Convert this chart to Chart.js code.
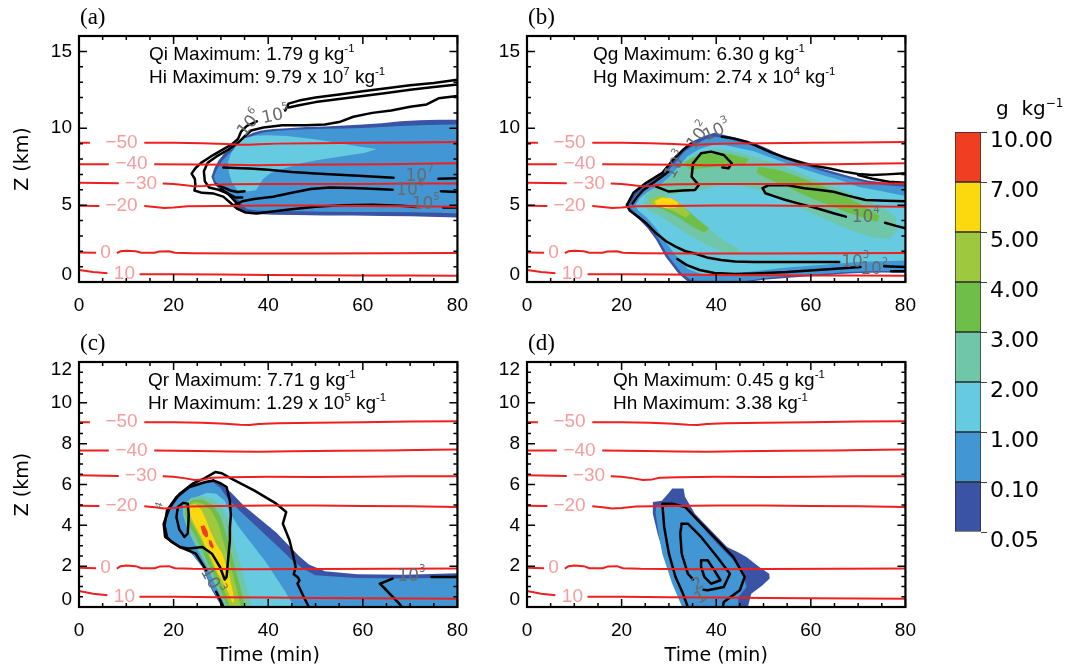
<!DOCTYPE html>
<html><head><meta charset="utf-8">
<script src="https://cdn.jsdelivr.net/npm/chart.js@4.4.1/dist/chart.umd.min.js"></script>
<style>
html,body{margin:0;padding:0;background:#fff;overflow:hidden}
#wrap{position:relative;width:1075px;height:669px;background:#fff}
#wrap canvas{position:absolute}
</style></head>
<body><div id="wrap">
<canvas id="pa" width="480" height="320" style="left:0px;top:0px"></canvas>
<canvas id="pb" width="480" height="320" style="left:448px;top:0px"></canvas>
<canvas id="pc" width="480" height="349" style="left:0px;top:320px"></canvas>
<canvas id="pd" width="480" height="349" style="left:448px;top:320px"></canvas>
<canvas id="cb" width="145" height="480" style="left:930px;top:80px"></canvas>
</div>
<script>
// ---------------- DATA ----------------
const timeMajor = [0,20,40,60,80];
const timeMinor = [5,10,15,25,30,35,45,50,55,65,70,75];
const zMajorTop = [0,5,10,15];
const zMinorTop = [1,2,3,4,6,7,8,9,11,12,13,14];
const zMajorBot = [0,2,4,6,8,10,12];
const zMinorBot = [0.5,1,1.5,2.5,3,3.5,4.5,5,5.5,6.5,7,7.5,8.5,9,9.5,10.5,11,11.5];

const cbLabels = ['0.05','0.10','1.00','2.00','3.00','4.00','5.00','7.00','10.00'];
const cbColors = ['#3a53a4','#4196d3','#66cbe1','#6fc6a9','#6ebe48','#9ec93f','#fcd80f','#f03e23'];
const cbBand = [1,1,1,1,1,1,1,1];

// isotherms (time min, height km)
const isoM50a = [[0,9.05],[2.3,9.05]];
const isoM50b = [[13.8,9.05],[20,9.05],[26,9.02],[31,8.98],[34,8.93],[36,8.92],[38,8.96],[42,9.0],[50,9.02],[60,9.05],[70,9.08],[80,9.1]];
const isoM40a = [[0,7.66],[6.3,7.66]];
const isoM40b = [[15.9,7.66],[25,7.64],[32,7.62],[38,7.6],[45,7.63],[55,7.65],[65,7.66],[75,7.7],[80,7.72]];
const isoM30a = [[0,6.45],[8.4,6.42]];
const isoM30b = [[17.7,6.41],[20,6.38],[22.5,6.3],[24.5,6.22],[26.5,6.25],[28,6.33],[32,6.36],[40,6.38],[50,6.37],[60,6.38],[70,6.4],[80,6.4]];
const isoM20a = [[0,4.96],[4.3,4.95]];
const isoM20b = [[13.8,4.94],[16,4.88],[18,4.82],[20,4.85],[23,4.92],[30,4.95],[40,4.97],[50,4.97],[60,4.95],[70,4.93],[80,4.9]];
const iso0a = [[0,1.92],[3.6,1.9]];
const iso0b = [[8,1.88],[8.8,2.0],[10,2.03],[12,2.0],[13.2,1.9],[16,1.9],[17,1.98],[19,2.0],[20.3,1.9],[24,1.87],[35,1.85],[50,1.86],[65,1.87],[80,1.88]];
const iso10a = [[0,0.78],[3,0.65],[6,0.57]];
const iso10b = [[12.8,0.5],[20,0.5],[30,0.48],[40,0.46],[50,0.44],[60,0.43],[70,0.42],[80,0.4]];
const isoLines = [isoM50a,isoM50b,isoM40a,isoM40b,isoM30a,isoM30b,isoM20a,isoM20b,iso0a,iso0b,iso10a,iso10b];
const isoLabels = [{t:'\u221250',x:9.0,y:9.05},{t:'\u221240',x:11.1,y:7.66},{t:'\u221230',x:13.1,y:6.42},{t:'\u221220',x:9.0,y:4.95},{t:'0',x:5.6,y:1.9},{t:'10',x:9.6,y:0.52}];

// ---- panel (a): ice ----
const aFill005 = [[28,6.85],[28.6,7.4],[29.5,7.9],[30.8,8.4],[32.2,8.75],[33.6,9.15],[35,9.45],[36.8,9.7],[38.5,9.85],[41,9.95],[44,10.0],[48,10.08],[52,10.12],[56,10.18],[60,10.25],[64,10.32],[68,10.45],[72,10.52],[76,10.55],[80,10.55],[80,4.2],[76,4.22],[70,4.28],[64,4.3],[58,4.32],[52,4.32],[46,4.35],[41,4.38],[37.5,4.42],[35,4.5],[33.6,4.75],[33,5.2],[31.8,5.55],[30,5.95],[28.6,6.35]];
const aFill01 = [[28.5,6.85],[29.2,7.35],[30.2,7.85],[31.5,8.3],[32.8,8.65],[34.2,9.05],[35.6,9.35],[37.3,9.58],[39,9.72],[41.5,9.82],[44.5,9.88],[48,9.93],[52,9.96],[56,9.98],[60,10.02],[64,10.08],[68,10.15],[72,10.2],[76,10.22],[80,10.25],[80,4.45],[76,4.5],[70,4.53],[64,4.55],[58,4.55],[52,4.57],[46,4.6],[41,4.62],[37.5,4.65],[35.5,4.75],[34.5,5.0],[33.5,5.4],[32,5.75],[30.3,6.1],[29,6.45]];
const aFill1 = [[31.5,7.8],[32.2,8.4],[33.4,8.95],[35,9.35],[37,9.52],[40,9.55],[44,9.5],[48,9.35],[52,9.18],[56,8.98],[59.5,8.8],[62.9,8.65],[60.5,8.4],[56.7,8.22],[53,8.05],[49.9,7.9],[47,7.72],[44.5,7.5],[42,7.25],[40.4,7.05],[38.9,6.7],[38.1,6.3],[37.4,5.97],[35.5,5.88],[33.6,5.95],[32.4,6.4],[31.7,7.1]];
const aTop1 = [[80,13.15],[75,12.95],[70,12.8],[65,12.6],[60,12.4],[55,12.2],[50,12.0],[46.5,11.8],[44.3,11.6],[43.6,11.15]];
const aTop2 = [[80,12.85],[75,12.68],[70,12.5],[65,12.3],[60,12.1],[55,11.9],[50,11.7],[46.5,11.5],[44.3,11.35]];
const aOuter = [[37.6,10.45],[35.5,10.15],[34.3,9.8],[33.6,9.3],[32.3,8.95],[30,8.55],[27.8,8.15],[25.8,7.75],[24.6,7.4],[23.8,7.05],[24.5,6.7],[24.6,6.3],[24.4,5.95],[26,5.8],[28.5,5.75],[30.5,5.55],[32,5.15],[33.5,4.75],[35.2,4.52],[37.5,4.45],[40,4.55],[44,4.7],[50,4.9],[56,5.0],[62,5.02],[68,4.96],[71.3,4.9]];
const aOuterR = [[77,4.85],[80,4.85]];
const aInner = [[80,12.1],[76,11.95],[73.5,11.55],[70,11.4],[66,11.15],[62,11.0],[58,10.75],[55,10.4],[52,10.25],[48,10.2],[43,10.2],[39,10.05],[36.4,9.85],[35.1,9.5],[33.6,9.05],[31.5,8.6],[29,8.15],[27.2,7.75],[26.4,7.2],[26.6,6.55],[27.5,6.15],[29.5,6.0],[31.5,5.75],[32.8,5.3],[33.8,5.0]];
const a10e7 = [[30.5,7.45],[33,7.42],[36,7.38],[40,7.3],[45,7.15],[50,7.05],[55,6.98],[60,6.9],[66.5,6.78]];
const a10e7R = [[76,6.72],[80,6.75]];
const a10e6 = [[32.8,5.0],[34.5,5.25],[37,5.4],[41,5.55],[45,5.8],[49,6.05],[53,6.15],[58,6.12],[63,6.05],[66.3,6.0]];
const a10e6R = [[76.5,5.9],[80,5.85]];
const aSq1 = [[29,6.35],[30.5,6.15],[32,5.95],[33.5,5.85],[35,5.9]];
const aSq2 = [[30,6.05],[31.5,5.75],[33,5.5],[34.5,5.5]];
const aLabels = [{b:'10',s:'7',x:72,y:6.87,r:0},{b:'10',s:'6',x:70,y:5.95,r:0},{b:'10',s:'5',x:73.3,y:5.05,r:0},{b:'10',s:'6',x:36.2,y:10.3,r:-50},{b:'10',s:'5',x:41.6,y:10.8,r:-12}];

// ---- panel (b): graupel ----
const bFill005 = [[21,4.9],[22.5,5.7],[24,6.15],[26.5,6.6],[28.6,7.1],[30.5,7.8],[32.7,8.6],[35,9.15],[37.5,9.5],[39.6,9.7],[42,9.55],[45,9.3],[48,9.05],[51,8.65],[54.5,8.15],[58,7.8],[61.5,7.45],[65,7.15],[68,6.9],[72,6.6],[76,6.45],[80,6.4],[80,0.6],[74,0.62],[68,0.55],[62,0.42],[56,0.3],[50,0.15],[46.5,0],[34.1,0],[32,0.56],[29.3,1.65],[27.3,2.75],[25.5,3.5],[23.9,4.0],[22,4.5]];
const bFill01 = [[21.6,4.9],[23,5.65],[24.5,6.05],[27,6.45],[29,6.95],[31,7.65],[33.2,8.45],[35.5,8.95],[37.8,9.3],[39.8,9.45],[42,9.35],[45,9.1],[48,8.85],[51,8.45],[54.5,8.0],[58,7.65],[61.5,7.3],[65,7.0],[68,6.75],[72,6.45],[76,6.3],[80,6.2],[80,0.7],[74,0.72],[68,0.65],[62,0.52],[56,0.4],[50,0.25],[46,0.05],[35,0.05],[32.6,0.6],[29.8,1.7],[27.8,2.8],[26,3.55],[24.3,4.1],[22.5,4.6]];
const bFill1 = [[22.8,4.95],[24,5.5],[25.5,5.85],[28,6.3],[30,6.8],[32,7.5],[34,8.2],[36.5,8.65],[39.5,8.95],[42,8.9],[45,8.7],[48,8.5],[51,8.15],[55,7.7],[58,7.4],[62,7.0],[66,6.65],[70,6.2],[75,5.9],[80,5.6],[80,1.4],[75,1.35],[70,1.3],[62,1.1],[55,0.95],[48,0.7],[42,0.5],[37,0.5],[34,0.85],[31.5,1.7],[29.3,2.6],[27.3,3.5],[25.3,4.2],[23.7,4.6]];
const bFill2a = [[24.8,5.6],[27,6.1],[29.5,6.6],[31.5,7.2],[33.5,7.9],[36,8.4],[39,8.65],[42,8.6],[45,8.4],[48,8.15],[52,7.75],[56,7.3],[60,6.8],[64,6.3],[68,5.8],[72,5.3],[75.5,4.8],[78,4.2],[78.2,3.3],[76.5,2.8],[73,2.9],[69,3.3],[65,3.8],[61,4.35],[57,4.9],[53,5.5],[49,6.0],[45,6.3],[41,6.3],[37,6.0],[33,5.8],[29,5.6],[26,5.2]];
const bFill2b = [[24.5,5.2],[27,5.55],[30,5.45],[33,4.9],[36,4.1],[39,3.3],[42,2.6],[45,2.1],[44.5,1.8],[41,2.0],[37.5,2.5],[34,3.1],[31,3.7],[28,4.3],[25.5,4.7]];
const bFill3a = [[33,7.7],[35,8.1],[38,8.35],[41,8.4],[44,8.25],[47,8.0],[46,7.65],[43,7.55],[40,7.5],[37,7.4],[34.5,7.3]];
const bFill3b = [[49,7.5],[53,7.3],[57,6.9],[61,6.4],[65,5.9],[69,5.3],[72,4.8],[74.5,4.3],[74,3.9],[71,4.2],[67,4.6],[63,5.1],[59,5.6],[55,6.2],[51,6.7],[48.5,7.1]];
const bFill3c = [[26,5.3],[28,5.6],[31,5.4],[33.5,4.8],[36,4.1],[38.5,3.5],[37.5,3.2],[35,3.6],[32,4.2],[29,4.7],[26.5,4.95]];
const bFill4 = [[26,5.35],[28,5.6],[31,5.4],[33,5.0],[34.5,4.4],[33.5,4.2],[31,4.6],[28.5,4.9],[26.5,5.0]];
const bFill5 = [[27,5.25],[28.5,5.5],[30.5,5.45],[32,5.15],[31.5,4.85],[29.5,4.8],[27.5,4.95]];
const bTop = [[80,7.07],[76,7.0],[73,6.96],[70,7.02],[67,7.18],[64,7.38],[61,7.55],[58.6,7.72],[55,8.05],[51.8,8.4],[48.5,8.85],[46.4,9.13],[43.5,9.35],[41.2,9.45]];
const bLeft = [[34.6,9.0],[33,8.6],[31,8.0],[28.6,7.1],[25.2,6.45],[22.5,5.8],[21.1,5.0],[21.7,4.65],[23.5,4.25],[25.3,3.8],[27.3,3.17],[29.4,2.65],[31.4,2.3],[33.5,2.0],[35.5,1.85],[38,1.6],[41,1.43],[44,1.33],[48,1.3],[55,1.3],[60,1.3],[66,1.3]];
const bLowR = [[75.5,1.02],[80,0.98]];
const bLow2 = [[31.8,1.5],[33.8,1.1],[36.5,0.78],[39.6,0.58],[44,0.52],[48,0.56],[55,0.65],[61.4,0.78],[66,0.88],[70.5,0.97]];
const bLow2R = [[77,0.7],[80,0.7]];
const bTop3 = [[80,6.45],[76.5,6.52],[73,6.72],[70,6.95]];
const bLeft3 = [[22.3,5.1],[23.2,5.5],[24.5,5.95],[26.5,6.4],[28.5,6.85],[30,7.2]];
const bHook = [[27.3,6.2],[30,5.88],[33,5.95],[35.5,5.98],[36.3,6.3],[34.8,6.85],[35.1,7.72],[36.8,8.37],[38.9,8.48],[41.6,8.26],[43.3,7.72],[42.6,7.4],[41.3,7.45]];
const bLoop = [[80,5.25],[76,5.28],[71.6,5.33],[68,5.6],[64.8,5.87],[61.5,6.0],[58.6,6.1],[55,6.3],[51.1,6.3],[49.8,6.1],[50.4,5.77],[52.5,5.55],[54.5,5.35],[57.5,5.1],[60,4.9],[62.5,4.68],[64.8,4.47],[67.4,4.25]];
const bLoopR = [[75.7,3.85],[78,3.65],[80,3.5]];
const bLabels = [{b:'10',s:'4',x:71.6,y:4.2,r:0},{b:'10',s:'2',x:36.4,y:9.5,r:-55},{b:'10',s:'3',x:40.2,y:9.8,r:-25},{b:'10',s:'3',x:31.6,y:7.6,r:-60},{b:'10',s:'3',x:69.4,y:1.25,r:0},{b:'10',s:'2',x:73.4,y:0.8,r:0}];

// ---- panel (c): rain ----
const cFill005 = [[17.7,4.0],[18.6,4.65],[20.6,5.39],[23.3,5.88],[26.7,6.15],[28.4,6.25],[30.2,6.0],[32.2,5.6],[34.9,4.95],[38.3,4.3],[41.7,3.65],[44.5,2.98],[46.5,2.5],[48.6,2.08],[52,1.75],[58.8,1.6],[69,1.58],[80,1.65],[80,0],[30.2,0],[28.1,0.82],[26.1,1.96],[23.3,2.78],[20.6,3.1],[18.2,3.43]];
const cFill01 = [[18.0,4.0],[18.9,4.6],[20.8,5.3],[23.4,5.8],[26.7,6.05],[28.4,6.1],[29.8,5.85],[31.5,5.3],[33.8,4.75],[36.8,4.1],[40,3.4],[43,2.75],[45,2.3],[47.2,1.9],[50,1.55],[58.8,1.42],[69,1.4],[80,1.45],[80,0],[30.4,0],[28.3,0.82],[26.3,1.9],[23.5,2.7],[20.8,3.0],[18.4,3.35]];
const cFill1 = [[23.2,5.0],[25,5.4],[27,5.6],[29,5.55],[30.8,5.2],[32,4.6],[33.5,4.0],[35.5,3.4],[37.5,2.8],[39.5,2.2],[41.5,1.5],[43.5,0.8],[45.5,0],[31.2,0],[29.5,0.9],[27.8,1.8],[26,2.7],[24.3,3.4],[23,4.2]];
const cFill2 = [[22.0,5.0],[23.8,5.35],[26,5.45],[28.3,5.3],[30.2,4.9],[31.6,4.2],[32.5,3.4],[33.6,2.5],[34.8,1.5],[35.8,0.7],[36.6,0],[30.9,0],[29.8,0.6],[28.6,1.2],[27.2,1.9],[25.8,2.5],[24.2,3.2],[22.8,3.9],[22.0,4.5]];
const cFill3 = [[22.4,4.98],[24.2,5.25],[26.2,5.25],[28.2,5.0],[29.8,4.5],[30.8,3.8],[31.7,3.0],[32.7,2.2],[33.7,1.3],[34.6,0.5],[35.0,0],[31.4,0],[30.3,0.6],[29.0,1.3],[27.6,2.0],[26.2,2.7],[24.7,3.4],[23.3,4.0],[22.5,4.5]];
const cFill4 = [[22.8,4.95],[24.5,5.15],[26.3,5.05],[28,4.7],[29.4,4.1],[30.4,3.3],[31.3,2.6],[32.3,1.8],[33.3,0.9],[34.2,0],[31.9,0],[30.9,0.7],[29.6,1.4],[28.2,2.1],[26.8,2.8],[25.3,3.5],[23.9,4.1],[23.0,4.5]];
const cFill5 = [[23.2,4.95],[24.6,5.05],[25.9,4.75],[26.9,4.25],[27.9,3.65],[29.0,3.1],[30.3,2.6],[31.2,2.0],[31.9,1.4],[32.5,0.8],[32.8,0.3],[32.4,0.2],[31.6,0.7],[30.5,1.2],[29.2,1.7],[28.1,2.3],[26.9,2.9],[25.7,3.5],[24.5,4.0],[23.6,4.45]];
const cFill7a = [[25.7,3.95],[26.5,4.0],[27.2,3.7],[27.3,3.45],[26.8,3.4],[26.1,3.6]];
const cFill7b = [[27.4,3.3],[28.0,3.25],[28.5,2.95],[28.2,2.85],[27.6,3.0]];
const cOuter = [[30.5,0],[30.2,0.17],[29.0,0.75]];
const cOuter2 = [[26.9,1.8],[24.7,2.61],[21.3,2.94],[18.2,3.43],[17.9,4.08],[19.2,4.9],[21.3,5.55],[24,6.04],[26.5,6.3],[28.8,6.61],[30.2,6.55],[32.2,6.29],[37,5.71],[41.7,5.06],[43.8,4.65],[43.1,4.08],[44.5,3.27],[45.2,2.6],[45.8,1.96],[45.4,1.6],[46.3,1.45],[46.6,1.3],[46.2,1.14],[47.5,0.5],[48.6,0]];
const cInner = [[28.4,6.2],[30,6.05],[31.2,5.88],[31.9,5.2],[32.1,4.5],[31.9,3.9],[31.9,3.27],[31.5,2.29],[31.2,1.47],[30.8,1.35],[29.8,1.96],[28.1,2.61],[26.1,2.94],[23.3,2.86],[21.3,2.94],[19.5,3.2],[18.6,3.43],[18.1,4.0],[18.6,4.73],[20.6,5.39],[23.3,5.88],[26.7,6.12],[28.4,6.2]];
const cCore = [[20.9,4.9],[22,5.1],[23,5.06],[23.2,4.5],[23,3.6],[22.3,3.43],[21.2,3.8],[20.6,4.4],[20.9,4.9]];
const cRight = [[80,1.47],[74.5,1.47]];
const cRight2 = [[66.3,1.39],[63.6,1.14],[65,0.82],[67.7,0.17],[68.2,0]];
const cLabels = [{b:'10',s:'3',x:70.3,y:1.5,r:0},{b:'10',s:'3',x:28.0,y:1.25,r:60},{b:'',s:'4',x:18.4,y:4.85,r:-70}];

// ---- panel (d): hail ----
const dFill005 = [[26.6,5.14],[28.5,5.2],[30,5.6],[30.7,5.8],[33.1,5.8],[33.4,5.4],[35.5,4.57],[38.2,3.92],[42.3,2.94],[44.5,2.7],[46.4,2.45],[49.1,1.96],[51.2,1.63],[51.3,1.39],[49.8,1.06],[47.4,0.65],[46.7,0],[33.1,0],[31.4,0.98],[29.3,2.29],[27.6,3.6],[26.6,4.57]];
const dFill01 = [[27.3,4.95],[29,5.05],[31.1,5.0],[34,4.83],[36,4.25],[38.2,3.6],[41,2.9],[43.6,2.29],[45.7,1.63],[46.4,0.98],[44.7,0.49],[44.6,0],[32.8,0],[30.7,1.14],[28.6,2.61],[27.6,3.92],[27.2,4.6]];
const dC1 = [[41.4,0],[41.6,0.24],[45,0.82],[46,1.47],[43.6,2.45],[40.2,3.27],[36.8,4.08],[33.4,4.9],[30.7,5.06],[28.6,5.06],[28.8,4.5],[29,3.92],[30,2.61],[31.4,1.47],[32.8,0.75],[34,0]];
const dC2 = [[32.7,4.08],[34,4.08],[36.8,3.43],[40.2,2.45],[42.9,1.63],[41.6,0.98],[38.2,0.82],[37.3,0.85]];
const dC2b = [[35.1,1.35],[34,1.63],[32.7,2.61],[32.4,3.6],[32.7,4.08]];
const dC3 = [[36.8,2.29],[38.2,2.29],[39.6,1.8],[40.9,1.31],[38.9,1.14],[37.5,1.47],[36.8,1.96],[36.8,2.29]];
const dLabels = [{b:'2',s:'',x:36.1,y:1.1,r:-30},{b:'1',s:'',x:36.8,y:0.45,r:-30}];

// ---------------- DRAWING ----------------
const xy = pts => pts.map(p => ({x: p[0], y: p[1]}));

function richWidth(ctx, parts, size, fam) {
  let w = 0;
  for (const [t, s] of parts) { ctx.font = (s ? size * 0.6 : size) + 'px ' + fam; w += ctx.measureText(t).width; }
  return w;
}
function drawRich(ctx, parts, x, y, size, fam, align) {
  let cx = align === 'center' ? x - richWidth(ctx, parts, size, fam) / 2 : x;
  ctx.textAlign = 'left';
  for (const [t, s] of parts) {
    if (!t) continue;
    ctx.font = (s ? size * 0.6 : size) + 'px ' + fam;
    ctx.fillText(t, cx, s ? y - size * 0.42 : y);
    cx += ctx.measureText(t).width;
  }
}

const boxPlugin = {
  id: 'boxticks',
  afterDatasetsDraw(chart, args, o) {
    const {ctx, chartArea: {left, right, top, bottom}, scales: {x, y}} = chart;
    ctx.save();
    ctx.fillStyle = '#f59d9d'; ctx.font = '19px "Liberation Sans"';
    ctx.textAlign = 'center'; ctx.textBaseline = 'middle';
    isoLabels.forEach(l => ctx.fillText(l.t, x.getPixelForValue(l.x), y.getPixelForValue(l.y)));
    ctx.fillStyle = '#6a6a6a';
    o.clabels.forEach(l => {
      ctx.save();
      ctx.translate(x.getPixelForValue(l.x), y.getPixelForValue(l.y));
      ctx.rotate(l.r * Math.PI / 180);
      ctx.textBaseline = 'middle';
      drawRich(ctx, [[l.b, 0], [l.s, 1]], 0, 0, 17, '"DejaVu Sans"', 'center');
      ctx.restore();
    });
    ctx.strokeStyle = '#000'; ctx.lineWidth = 1.5;
    ctx.beginPath();
    const tx = (v, L) => { const p = x.getPixelForValue(v); ctx.moveTo(p, bottom); ctx.lineTo(p, bottom - L); ctx.moveTo(p, top); ctx.lineTo(p, top + L); };
    const ty = (v, L) => { const p = y.getPixelForValue(v); ctx.moveTo(left, p); ctx.lineTo(left + L, p); ctx.moveTo(right, p); ctx.lineTo(right - L, p); };
    timeMajor.forEach(v => tx(v, 8)); timeMinor.forEach(v => tx(v, 4));
    o.yMajor.forEach(v => ty(v, 8)); o.yMinor.forEach(v => ty(v, 4));
    ctx.stroke();
    ctx.lineWidth = 2.2;
    ctx.strokeRect(left, top, right - left, bottom - top);
    ctx.restore();
  },
  afterDraw(chart, args, o) {
    const {ctx, chartArea: {left, top}} = chart;
    ctx.save();
    ctx.fillStyle = '#000'; ctx.textBaseline = 'alphabetic';
    drawRich(ctx, o.t1, left + o.tx, top + 24, 19, '"Liberation Sans"', 'left');
    drawRich(ctx, o.t2, left + o.tx, top + 47, 19, '"Liberation Sans"', 'left');
    ctx.font = '23px "Liberation Serif"'; ctx.textAlign = 'left';
    ctx.fillText(o.letter, left + 1, top - 12);
    ctx.restore();
  }
};

function makePanel(id, cfg) {
  const datasets = [];
  let ord = 1000;
  cfg.fills.forEach(([pts, lev]) => datasets.push({data: xy(pts), fill: 'shape', backgroundColor: cbColors[lev], borderWidth: 0, pointRadius: 0, pointHoverRadius: 0, order: ord--}));
  cfg.lines.forEach(pts => datasets.push({data: xy(pts), fill: false, borderColor: '#000', borderWidth: 2.5, borderJoinStyle: 'round', borderCapStyle: 'round', pointRadius: 0, pointHoverRadius: 0, order: 20}));
  isoLines.forEach(pts => datasets.push({data: xy(pts), fill: false, borderColor: '#ee1f1f', borderWidth: 2, borderJoinStyle: 'round', pointRadius: 0, pointHoverRadius: 0, order: 10}));
  const yMax = cfg.yMax;
  new Chart(document.getElementById(id), {
    type: 'line',
    data: {datasets},
    options: {
      responsive: false, animation: false, devicePixelRatio: 1, events: [],
      layout: {padding: {top: cfg.padTop, right: 10, left: 0, bottom: 0}},
      plugins: {legend: {display: false}, tooltip: {enabled: false},
        boxticks: {clabels: cfg.clabels, yMajor: cfg.yMajor, yMinor: cfg.yMinor, t1: cfg.t1, t2: cfg.t2, tx: cfg.tx, letter: cfg.letter}},
      scales: {
        x: {type: 'linear', min: 0, max: 80,
          afterBuildTicks: s => { s.ticks = timeMajor.map(v => ({value: v})); },
          afterFit: s => { s.height = cfg.xH; },
          ticks: {font: {family: 'Liberation Sans', size: 19}, color: '#000', padding: 12, maxRotation: 0, autoSkip: false},
          grid: {display: false, drawTicks: false}, border: {display: false},
          title: {display: cfg.xTitle, text: 'Time (min)', color: '#000', font: {family: 'DejaVu Sans', size: 19}, padding: {top: 0, bottom: 1.6}}},
        y: {type: 'linear', min: 0, max: yMax,
          afterBuildTicks: s => { s.ticks = cfg.yMajor.map(v => ({value: v})); },
          afterFit: s => { s.width = 79; },
          ticks: {font: {family: 'Liberation Sans', size: 19, lineHeight: 0.8}, color: '#000', padding: 7, autoSkip: false,
            callback: v => v === yMax ? ['', String(v)] : (v === 0 ? ['0', ''] : String(v))},
          grid: {display: false, drawTicks: false}, border: {display: false},
          title: {display: cfg.yTitle, text: 'Z (km)', color: '#000', font: {family: 'DejaVu Sans', size: 19}, padding: {top: 11.6, bottom: 0}}}
      }
    },
    plugins: [boxPlugin]
  });
}

makePanel('pa', {
  fills: [[aFill005, 0], [aFill01, 1], [aFill1, 2]],
  lines: [aTop1, aTop2, aOuter, aOuterR, aInner, a10e7, a10e7R, a10e6, a10e6R, aSq1, aSq2],
  clabels: aLabels, yMax: 16, yMajor: zMajorTop, yMinor: zMinorTop, padTop: 36, xH: 38,
  xTitle: false, yTitle: true, letter: '(a)', tx: 70,
  t1: [['Qi Maximum: 1.79 g kg', 0], ['-1', 1]],
  t2: [['Hi Maximum: 9.79 x 10', 0], ['7', 1], [' kg', 0], ['-1', 1]]
});
makePanel('pb', {
  fills: [[bFill005, 0], [bFill01, 1], [bFill1, 2], [bFill2a, 3], [bFill2b, 3], [bFill3a, 4], [bFill3b, 4], [bFill3c, 4], [bFill4, 5], [bFill5, 6]],
  lines: [bTop, bLeft, bLowR, bLow2, bLow2R, bTop3, bLeft3, bHook, bLoop, bLoopR],
  clabels: bLabels, yMax: 16, yMajor: zMajorTop, yMinor: zMinorTop, padTop: 36, xH: 38,
  xTitle: false, yTitle: false, letter: '(b)', tx: 66,
  t1: [['Qg Maximum: 6.30 g kg', 0], ['-1', 1]],
  t2: [['Hg Maximum: 2.74 x 10', 0], ['4', 1], [' kg', 0], ['-1', 1]]
});
makePanel('pc', {
  fills: [[cFill005, 0], [cFill01, 1], [cFill1, 2], [cFill2, 3], [cFill3, 4], [cFill4, 5], [cFill5, 6], [cFill7a, 7], [cFill7b, 7]],
  lines: [cOuter, cOuter2, cInner, cCore, cRight, cRight2],
  clabels: cLabels, yMax: 12, yMajor: zMajorBot, yMinor: zMinorBot, padTop: 42, xH: 62,
  xTitle: true, yTitle: true, letter: '(c)', tx: 69,
  t1: [['Qr Maximum: 7.71 g kg', 0], ['-1', 1]],
  t2: [['Hr Maximum: 1.29 x 10', 0], ['5', 1], [' kg', 0], ['-1', 1]]
});
makePanel('pd', {
  fills: [[dFill005, 0], [dFill01, 1]],
  lines: [dC1, dC2, dC2b, dC3],
  clabels: dLabels, yMax: 12, yMajor: zMajorBot, yMinor: zMinorBot, padTop: 42, xH: 62,
  xTitle: true, yTitle: false, letter: '(d)', tx: 86,
  t1: [['Qh Maximum: 0.45 g kg', 0], ['-1', 1]],
  t2: [['Hh Maximum: 3.38 kg', 0], ['-1', 1]]
});

// colour bar
const cbTitle = {
  id: 'cbtitle',
  afterDraw(chart) {
    const ctx = chart.ctx;
    ctx.save(); ctx.fillStyle = '#000'; ctx.textBaseline = 'alphabetic';
    drawRich(ctx, [['g  kg', 0], ['\u22121', 1]], 66, 35, 20, '"DejaVu Sans"', 'left');
    ctx.restore();
  }
};
new Chart(document.getElementById('cb'), {
  type: 'bar',
  data: {labels: [''], datasets: cbColors.map((c, i) => ({data: [cbBand[i]], backgroundColor: c, borderColor: '#2a2a2a', borderWidth: 1, borderSkipped: false, barPercentage: 1, categoryPercentage: 1}))},
  options: {
    responsive: false, animation: false, devicePixelRatio: 1, events: [],
    layout: {padding: {left: 25, top: 52, bottom: 28, right: 0}},
    plugins: {legend: {display: false}, tooltip: {enabled: false}},
    scales: {
      x: {stacked: true, display: false},
      y: {stacked: true, position: 'right', min: 0, max: 8,
        afterBuildTicks: s => { s.ticks = cbLabels.map((_, i) => ({value: i})); },
        afterFit: s => { s.width = 94; },
        ticks: {callback: v => cbLabels[v], padding: 3, labelOffset: 9, color: '#000', font: {family: 'DejaVu Sans', size: 22}},
        grid: {drawOnChartArea: false, tickLength: 6, color: '#444'},
        border: {display: false}}
    }
  },
  plugins: [cbTitle]
});
</script>
</body></html>
